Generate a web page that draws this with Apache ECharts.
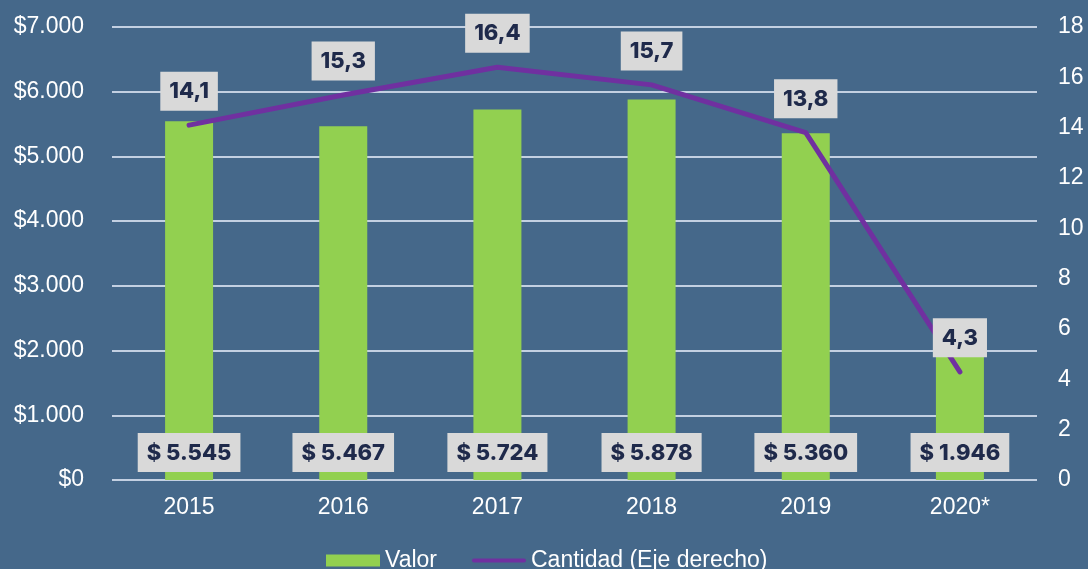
<!DOCTYPE html>
<html>
<head>
<meta charset="utf-8">
<script src="https://cdn.jsdelivr.net/npm/echarts@6/dist/echarts.min.js"></script>
<style>
  html, body { margin: 0; padding: 0; background: #45688a; }
  #chart { width: 1088px; height: 569px; }
</style>
</head>
<body>
<div id="chart"></div>
<script>
const years = ['2015', '2016', '2017', '2018', '2019', '2020*'];
const valor = [5545, 5467, 5724, 5878, 5360, 1946];
const cantidad = [14.1, 15.3, 16.4, 15.7, 13.8, 4.3];

const fmtMiles = v => String(v).replace(/\B(?=(\d{3})+(?!\d))/g, '.');

// etiquetas con caja gris
const boxLabel = {
  show: true,
  backgroundColor: '#d9d9d9',
  color: '#1f2a4b',
  fontFamily: 'Inter',
  fontWeight: 800,
  fontSize: 22,
  padding: [9, 9, 8, 9]
};

const chart = echarts.init(document.getElementById('chart'));
chart.setOption({
  backgroundColor: '#45688a',
  animation: false,
  textStyle: { fontFamily: 'Arial, Liberation Sans' },
  grid: { left: 112, right: 51, top: 27, bottom: 89 },
  legend: {
    top: 549,
    left: 326,
    padding: 0,
    itemWidth: 54,
    itemHeight: 12,
    itemGap: 35,
    textStyle: { color: '#ffffff', fontSize: 23 },
    data: [
      { name: 'Valor', icon: 'rect' },
      { name: 'Cantidad (Eje derecho)', icon: 'path://M2,0 H52 A2,2 0 0 1 52,4 H2 A2,2 0 0 1 2,0 Z' }
    ]
  },
  xAxis: {
    type: 'category',
    data: years,
    axisLine: { show: false },
    axisTick: { show: false },
    axisLabel: { color: '#ffffff', fontSize: 23, margin: 16 }
  },
  yAxis: [
    {
      type: 'value',
      min: 0,
      max: 7000,
      interval: 1000,
      axisLabel: {
        color: '#ffffff',
        fontSize: 23,
        margin: 28,
        formatter: v => '$' + fmtMiles(v)
      },
      splitLine: { lineStyle: { color: '#c3d0e2', width: 2 } }
    },
    {
      type: 'value',
      min: 0,
      max: 18,
      interval: 2,
      position: 'right',
      axisLabel: { color: '#ffffff', fontSize: 23, margin: 21 },
      splitLine: { show: false }
    }
  ],
  series: [
    {
      name: 'Valor',
      type: 'bar',
      data: valor,
      barWidth: 48,
      itemStyle: { color: '#92d050' },
      label: Object.assign({}, boxLabel, {
        position: 'insideBottom',
        distance: 8,
        formatter: p => '$ ' + fmtMiles(p.value)
      }),
      z: 2
    },
    {
      name: 'Cantidad (Eje derecho)',
      type: 'line',
      yAxisIndex: 1,
      data: cantidad,
      symbol: 'circle',
      symbolSize: 1,
      itemStyle: { color: '#7030a0' },
      lineStyle: { color: '#7030a0', width: 5, cap: 'round', join: 'round' },
      label: Object.assign({}, boxLabel, {
        position: 'top',
        distance: 14,
        formatter: p => String(p.value).replace('.', ',')
      }),
      z: 3
    }
  ]
});
</script>
</body>
</html>
